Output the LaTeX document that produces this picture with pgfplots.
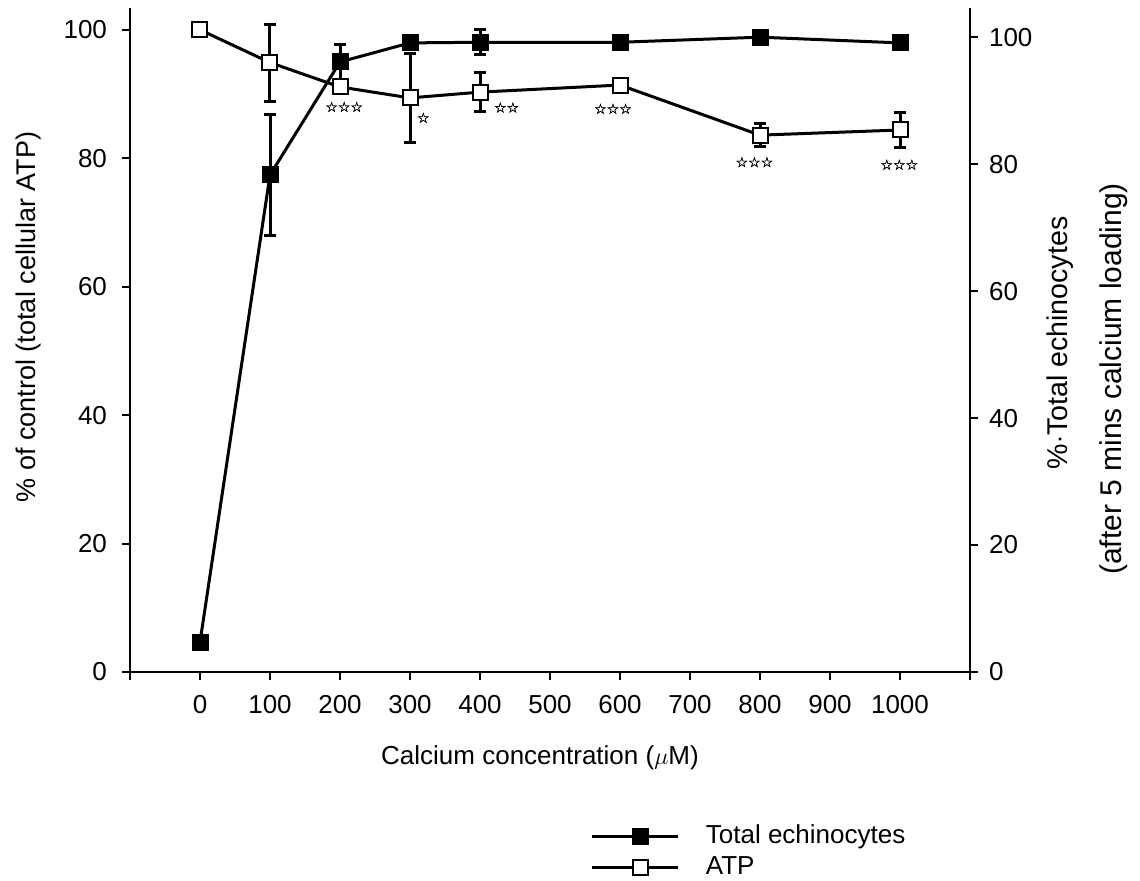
\documentclass[border=0pt]{standalone}
\usepackage{pgfplots}
\pgfplotsset{compat=1.18}
\usepackage{fontspec}
\setmainfont{Liberation Sans}
\newfontfamily\symfont[FakeBold=1.5]{DejaVu Sans}

\pgfplotstableread{
x y e
0 100.0 0
100 94.9 6.0
200 91.1 1.0
300 89.4 6.9
400 90.3 3.0
600 91.4 1.0
800 83.6 1.8
1000 84.4 2.7
}\atp

\pgfplotstableread{
x y e
0 4.7 0
100 78.3 9.5
200 96.1 2.8
300 99.1 1.0
400 99.2 2.0
600 99.2 0
800 100.0 0
1000 99.1 0
}\echino

\tikzset{sigstar/.style={font=\symfont\fontsize{7}{7}\selectfont, inner sep=0pt}}

\begin{document}
\begin{tikzpicture}
\useasboundingbox (-65pt,-104.5pt) rectangle (505pt,336pt);
\pgfplotsset{
  common/.style={
    at={(0,0)}, anchor=south west,
    scale only axis, width=420pt, height=332pt,
    xmin=-100, xmax=1100,
    tick align=outside,
    major tick length=4pt,
    every tick/.style={black, line width=1pt},
    axis line style={line width=1.2pt},
    tick label style={font=\fontsize{13}{13}\selectfont},
    /pgf/number format/assume math mode=true,
    clip=false,
    ytick={0,20,...,100},
  },
  ser/.style={black, line width=1.5pt, mark=square*, mark size=3.75pt,
    error bars/y dir=both, error bars/y explicit,
    error bars/error bar style={line width=1.5pt},
    error bars/error mark options={rotate=90, mark size=3pt, line width=1.5pt}},
}
% right axis: echinocytes
\begin{axis}[common,
  axis x line=none, axis y line*=right,
  ymin=0, ymax=104.6,
  yticklabel style={xshift=2pt},
]
\addplot[ser, mark options={solid, fill=black, line width=1pt}] table[x=x, y=y, y error=e] {\echino};
\end{axis}
% left axis: ATP
\begin{axis}[common,
  axis x line*=bottom, axis y line*=left,
  ymin=0, ymax=103.4,
  xtick={-100,0,100,...,1100},
  xticklabels={,0,100,200,300,400,500,600,700,800,900,1000,},
  yticklabel style={xshift=-4pt},
  xticklabel style={yshift=-4pt},
  legend style={at={(rel axis cs:0.5476,-0.23)}, anchor=north west, draw=none, fill=none,
    inner sep=0pt, font=\fontsize{13}{13}\selectfont, row sep=5pt,
    nodes={inner sep=0pt}},
  legend cell align=left,
  legend image code/.code={
    \draw[#1, mark=none] (0pt,0pt) -- (43pt,0pt);
    \draw[#1, only marks] plot coordinates {(24.5pt,0pt)};
    \path[draw=none] (0pt,0pt) -- (57pt,0pt);},
]
\addlegendimage{black, line width=1.5pt, mark=square*, mark size=3.75pt, mark options={solid, fill=black, line width=1pt}}
\addlegendentry{Total echinocytes}
\addplot[ser, mark options={solid, fill=white, line width=1pt}] table[x=x, y=y, y error=e] {\atp};
\addlegendentry{ATP}
\node[sigstar] at (axis cs:206,88.0) {☆☆☆};
\node[sigstar] at (axis cs:319,86.3) {☆};
\node[sigstar] at (axis cs:438,87.9) {☆☆};
\node[sigstar] at (axis cs:590,87.7) {☆☆☆};
\node[sigstar] at (axis cs:792,79.4) {☆☆☆};
\node[sigstar] at (axis cs:999,79.0) {☆☆☆};
\end{axis}
\node[rotate=90, font=\fontsize{13.5}{13.5}\selectfont] at (-50.5pt,177.5pt) {\% of control (total cellular ATP)};
\node[font=\fontsize{13}{13}\selectfont] at (205pt,-43pt) {Calcium concentration ($\mu$M)};
\node[rotate=90, font=\fontsize{14.3}{14.3}\selectfont] at (465pt,164.5pt) {\%$\cdot$Total echinocytes};
\node[rotate=90, font=\fontsize{15}{15}\selectfont] at (492pt,146.5pt) {(after 5 mins calcium loading)};
\end{tikzpicture}
\end{document}
